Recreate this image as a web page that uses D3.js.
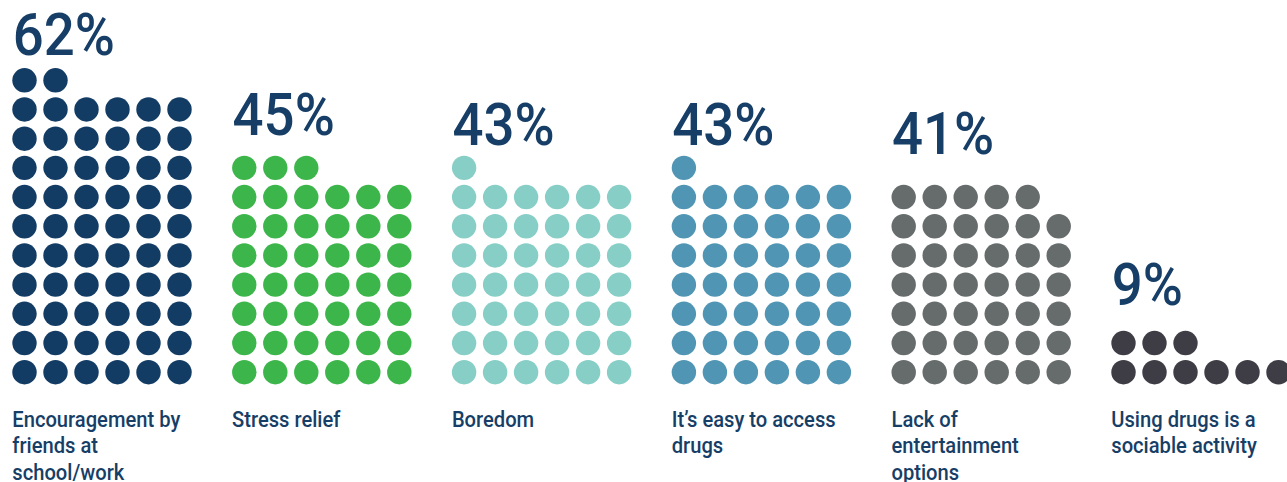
<!DOCTYPE html>
<html>
<head>
<meta charset="utf-8">
<script src="https://cdn.jsdelivr.net/npm/d3@7/dist/d3.min.js"></script>
<style>
  html, body { margin: 0; padding: 0; background: #ffffff; overflow: hidden; }
  svg { display: block; }
  text { font-family: Roboto, "Liberation Sans", sans-serif; fill: #163e66; }
</style>
</head>
<body>
<svg id="chart" width="1287" height="482"></svg>
<script>
const categories = [
  "Encouragement by friends at school/work",
  "Stress relief",
  "Boredom",
  "It’s easy to access drugs",
  "Lack of entertainment options",
  "Using drugs is a sociable activity"
];
const labelLines = [
  ["Encouragement by", "friends at", "school/work"],
  ["Stress relief"],
  ["Boredom"],
  ["It’s easy to access", "drugs"],
  ["Lack of", "entertainment", "options"],
  ["Using drugs is a", "sociable activity"]
];
const percents = [62, 45, 43, 43, 41, 9];
const percentLabels = ["62%", "45%", "43%", "43%", "41%", "9%"];
const dotColors = ["#133c64", "#3cb54a", "#86cec6", "#5095b4", "#666b6b", "#3e3d45"];

const W = 1287, H = 482;
const perRow = 6;
const radius = 12.2;
const squeezeBig = 0.925;
const squeezeSmall = 0.925;
const svg = d3.select("#chart");

const x = d3.scaleBand()
  .domain(categories)
  .range([12.3, 12.3 + 219.8 * categories.length])
  .paddingInner(0).paddingOuter(0);

const colX = d3.scaleLinear().domain([0, perRow - 1]).range([radius, radius + 31 * (perRow - 1)]);
const rowY = d3.scaleLinear().domain([0, 10]).range([372.2, 80.3]);
const labelY = d3.scaleLinear().domain([9, 62]).range([305, 55]);

const groups = svg.selectAll("g.grp")
  .data(categories.map((c, i) => ({ cat: c, p: percents[i], lab: percentLabels[i], color: dotColors[i], lines: labelLines[i] })))
  .join("g")
  .attr("class", "grp")
  .attr("transform", d => `translate(${x(d.cat)},0)`);

groups.selectAll("circle")
  .data(d => d3.range(d.p).map(k => ({ k, color: d.color })))
  .join("circle")
  .attr("cx", d => colX(d.k % perRow))
  .attr("cy", d => rowY(Math.floor(d.k / perRow)))
  .attr("r", radius)
  .attr("fill", d => d.color);

groups.append("g")
  .attr("transform", d => `translate(0.5,${labelY(d.p)}) scale(${squeezeBig},1)`)
  .append("text")
  .attr("x", 0)
  .attr("y", 0)
  .attr("font-size", 59)
  .attr("font-weight", 500)
  .text(d => d.lab);

groups.append("g")
  .attr("transform", `scale(${squeezeSmall},1)`)
  .append("text")
  .attr("font-size", 21.8)
  .attr("font-weight", 500)
  .selectAll("tspan")
  .data(d => d.lines)
  .join("tspan")
  .attr("x", 0)
  .attr("y", (d, i) => 427 + i * 26.5)
  .text(d => d);
</script>
</body>
</html>
